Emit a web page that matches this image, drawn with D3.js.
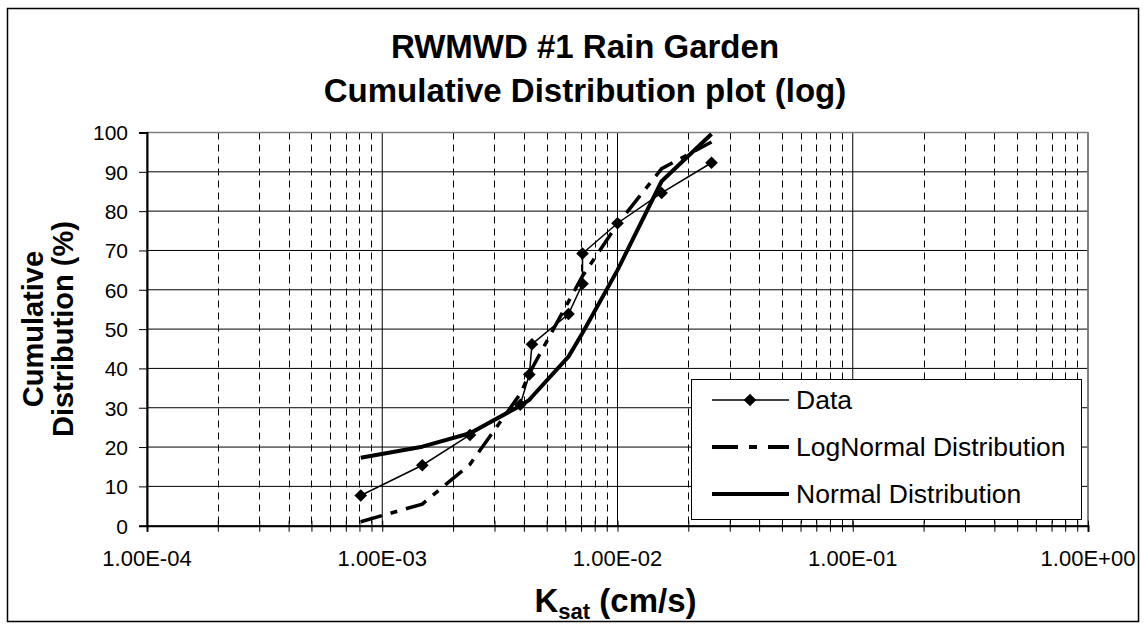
<!DOCTYPE html>
<html>
<head>
<meta charset="utf-8">
<script src="https://cdn.jsdelivr.net/npm/d3@7"></script>
<style>
  body { margin: 0; background: #fff; }
  text { font-family: "Liberation Sans", Arial, sans-serif; fill: #000; }
</style>
</head>
<body>
<svg id="chart" width="1145" height="629"></svg>
<script>
// values (Ksat in cm/s, percentages)
var ksat = [8.1e-4, 1.48e-3, 2.36e-3, 3.86e-3, 4.22e-3, 4.33e-3, 6.19e-3, 7.1e-3, 7.1e-3, 1.0e-2, 1.54e-2, 2.51e-2];
var dataPct = [7.69, 15.38, 23.08, 30.77, 38.46, 46.15, 53.85, 61.54, 69.23, 76.92, 84.62, 92.31];
var logNormalPct = [1.0, 5.5, 15.6, 33.5, 38.5, 40.0, 57.0, 63.5, 63.5, 76.7, 90.8, 97.6];
var normalPct = [17.3, 20.1, 23.5, 30.5, 32.0, 32.8, 43.0, 49.0, 49.0, 65.0, 87.6, 99.6];

var xMajor = [1e-4, 1e-3, 1e-2, 1e-1, 1];
var xMajorLabels = ["1.00E-04", "1.00E-03", "1.00E-02", "1.00E-01", "1.00E+00"];
var yTicks = [0, 10, 20, 30, 40, 50, 60, 70, 80, 90, 100];
var seriesNames = ["Data", "LogNormal Distribution", "Normal Distribution"];

var svg = d3.select("#chart");

// plot area (don't call it "top", that's window.top)
var pLeft = 147, pRight = 1088, pTop = 132.5, pBottom = 525.7;

var x = d3.scaleLog().domain([1e-4, 1]).range([pLeft, pRight]);
var y = d3.scaleLinear().domain([0, 100]).range([pBottom, pTop]);

// outer border
svg.append("rect")
  .attr("x", 7.5).attr("y", 8.5)
  .attr("width", 1131).attr("height", 613)
  .attr("fill", "#fff").attr("stroke", "#000").attr("stroke-width", 1.5);

// title
var title = svg.append("text")
  .attr("text-anchor", "middle")
  .style("font-size", "33px").style("font-weight", "bold");
title.append("tspan").attr("x", 585).attr("y", 58).text("RWMWD #1 Rain Garden");
title.append("tspan").attr("x", 585).attr("y", 102).text("Cumulative Distribution plot (log)");

// minor ticks (2..9 in every decade)
var minor = [];
xMajor.slice(0, -1).forEach(function(d) {
  for (var k = 2; k <= 9; k++) minor.push(d * k);
});

var grid = svg.append("g");

grid.selectAll(".minor")
  .data(minor)
  .enter().append("line")
    .attr("x1", d => Math.round(x(d)) + 0.5).attr("x2", d => Math.round(x(d)) + 0.5)
    .attr("y1", pTop).attr("y2", pBottom)
    .attr("stroke", "#000").attr("stroke-width", 1)
    .attr("stroke-dasharray", "7,5");

grid.selectAll(".hgrid")
  .data(yTicks)
  .enter().append("line")
    .attr("x1", pLeft).attr("x2", pRight)
    .attr("y1", d => y(d)).attr("y2", d => y(d))
    .attr("stroke", "#000").attr("stroke-width", 1);

grid.selectAll(".major")
  .data(xMajor)
  .enter().append("line")
    .attr("x1", d => x(d)).attr("x2", d => x(d))
    .attr("y1", pTop).attr("y2", pBottom)
    .attr("stroke", "#000").attr("stroke-width", 1);

// plot area border (grey)
svg.append("rect")
  .attr("x", pLeft).attr("y", pTop)
  .attr("width", pRight - pLeft).attr("height", pBottom - pTop)
  .attr("fill", "none").attr("stroke", "#808080").attr("stroke-width", 1.5);

// y axis
var yAxis = svg.append("g")
  .attr("transform", "translate(" + pLeft + ",0)")
  .call(d3.axisLeft(y).tickValues(yTicks).tickSize(8).tickPadding(11));
yAxis.select(".domain").attr("stroke", "#000").attr("stroke-width", 2);
yAxis.selectAll("text").style("font-size", "21px").attr("dy", "0.35em");

// x axis with crossing ticks
var xAxis = svg.append("g")
  .attr("transform", "translate(0," + pBottom + ")")
  .call(d3.axisBottom(x).tickValues(xMajor.concat(minor)).tickSize(6).tickFormat(""));
xAxis.select(".domain").attr("stroke", "#000").attr("stroke-width", 2);
xAxis.selectAll(".tick line").attr("y1", -5).attr("stroke", "#000");

svg.append("g").selectAll("text")
  .data(xMajor)
  .enter().append("text")
    .attr("x", d => x(d))
    .attr("y", pBottom + 40)
    .attr("text-anchor", "middle")
    .style("font-size", "22px")
    .text((d, i) => xMajorLabels[i]);

// axis titles
var yTitle = svg.append("text")
  .attr("transform", "translate(0," + ((pTop + pBottom) / 2) + ") rotate(-90)")
  .attr("text-anchor", "middle")
  .style("font-size", "29px").style("font-weight", "bold");
yTitle.append("tspan").attr("x", 0).attr("y", 43).text("Cumulative");
yTitle.append("tspan").attr("x", 0).attr("y", 73).text("Distribution (%)");

var xTitle = svg.append("text")
  .attr("x", (pLeft + pRight) / 2 - 2).attr("y", 612)
  .attr("text-anchor", "middle")
  .style("font-size", "33px").style("font-weight", "bold");
xTitle.append("tspan").text("K");
xTitle.append("tspan").attr("dy", 7).style("font-size", "22px").text("sat");
xTitle.append("tspan").attr("dy", -7).text(" (cm/s)");

// series
var dataPts = ksat.map((k, i) => ({ k: k, v: dataPct[i] }));
var logPts = ksat.map((k, i) => ({ k: k, v: logNormalPct[i] }));
var normPts = ksat.map((k, i) => ({ k: k, v: normalPct[i] }));

var line = d3.line().x(d => x(d.k)).y(d => y(d.v));
var diamond = d3.symbol().type(d3.symbolSquare).size(80);
var logDash = "22,9,7,9";

svg.append("path")
  .attr("d", line(dataPts))
  .attr("fill", "none").attr("stroke", "#000").attr("stroke-width", 1.5);

svg.selectAll(".marker")
  .data(dataPts)
  .enter().append("path")
    .attr("d", diamond)
    .attr("transform", d => "translate(" + x(d.k) + "," + y(d.v) + ") rotate(45)")
    .attr("fill", "#000");

svg.append("path")
  .attr("d", line(logPts))
  .attr("fill", "none").attr("stroke", "#000").attr("stroke-width", 3.5)
  .attr("stroke-dasharray", logDash);

svg.append("path")
  .attr("d", line(normPts))
  .attr("fill", "none").attr("stroke", "#000").attr("stroke-width", 4)
  .attr("stroke-linejoin", "round");

// legend
var legend = svg.append("g").attr("transform", "translate(691,379)");
legend.append("rect")
  .attr("x", 0.5).attr("y", 0.5).attr("width", 390).attr("height", 140)
  .attr("fill", "#fff").attr("stroke", "#000").attr("stroke-width", 1);

var rows = legend.selectAll(".row")
  .data(seriesNames)
  .enter().append("g")
    .attr("transform", (d, i) => "translate(0," + (21 + i * 47) + ")");

rows.append("line")
  .attr("x1", 21).attr("x2", 98)
  .attr("stroke", "#000")
  .attr("stroke-width", (d, i) => i === 0 ? 1.5 : 4)
  .attr("stroke-dasharray", (d, i) => i === 1 ? "26,11,8,11" : null);

rows.filter((d, i) => i === 0).append("path")
  .attr("d", diamond)
  .attr("transform", "translate(59,0) rotate(45)")
  .attr("fill", "#000");

rows.append("text")
  .attr("x", 105).attr("dy", "0.35em")
  .style("font-size", "26.5px")
  .text(d => d);
</script>
</body>
</html>
